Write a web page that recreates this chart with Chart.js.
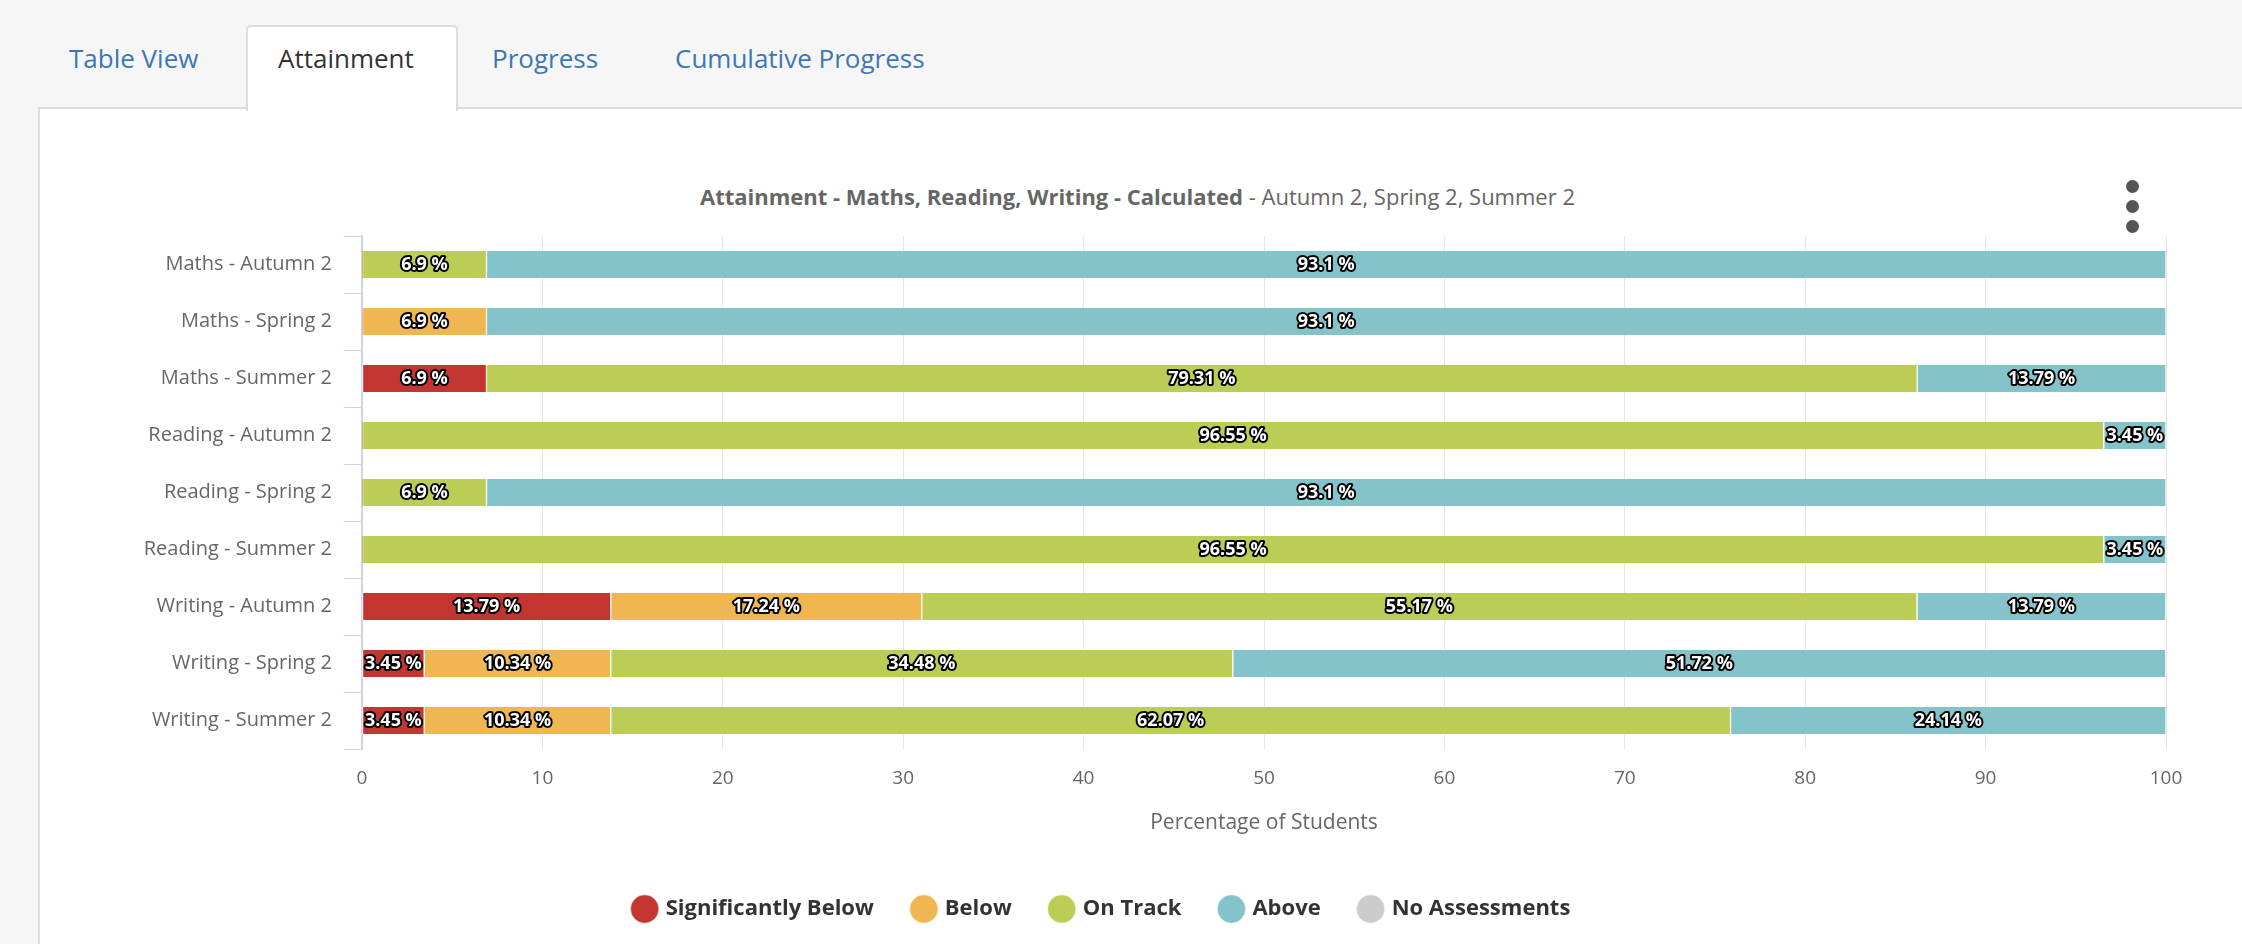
<!DOCTYPE html>
<html><head><meta charset="utf-8">
<script src="https://cdn.jsdelivr.net/npm/chart.js@4"></script>
<style>
  body { margin:0; width:2242px; height:944px; background:#f6f6f6; font-family:"Open Sans",sans-serif; overflow:hidden; position:relative; }
  .tab { position:absolute; top:40px; font-size:26px; color:#3d76b6; }
  .tab.active { color:#333; }
  #tabbox { position:absolute; left:246px; top:25px; width:208px; height:84px; background:#fff; border:2px solid #ddd; border-bottom:none; border-radius:5px 5px 0 0; z-index:2; }
  #panel { position:absolute; left:38px; top:107px; width:2220px; height:860px; background:#fff; border:2px solid #ddd; }
  #title { position:absolute; left:0; width:2275px; top:181px; text-align:center; font-size:22px; color:#666; z-index:3; }
  #dots { position:absolute; left:2126px; top:180px; z-index:3; }
  #dots div { width:13px; height:13px; border-radius:50%; background:#555; margin-bottom:7px; }
  #wrap { position:absolute; left:39px; top:107px; width:2203px; height:837px; z-index:3; }
</style></head>
<body>
<div id="panel"></div>
<div id="tabbox"></div>
<div class="tab" style="left:69px">Table View</div>
<div class="tab active" style="left:278px;z-index:3">Attainment</div>
<div class="tab" style="left:492px">Progress</div>
<div class="tab" style="left:675px">Cumulative Progress</div>
<div id="title"><b>Attainment - Maths, Reading, Writing - Calculated</b> - Autumn 2, Spring 2, Summer 2</div>
<div id="dots"><div></div><div></div><div></div></div>
<div id="wrap"><canvas id="c"></canvas></div>
<script>
const categories = ['Maths - Autumn 2','Maths - Spring 2','Maths - Summer 2','Reading - Autumn 2','Reading - Spring 2','Reading - Summer 2','Writing - Autumn 2','Writing - Spring 2','Writing - Summer 2'];
const sigBelow = [0,0,6.9,0,0,0,13.79,3.45,3.45];
const below = [0,6.9,0,0,0,0,17.24,10.34,10.34];
const onTrack = [6.9,0,79.31,96.55,6.9,96.55,55.17,34.48,62.07];
const above = [93.1,93.1,13.79,3.45,93.1,3.45,13.79,51.72,24.14];
const noAssess = [0,0,0,0,0,0,0,0,0];
const xTicks = [0,10,20,30,40,50,60,70,80,90,100];

const series = [
  ['Significantly Below', sigBelow, '#c23531'],
  ['Below', below, '#f0b650'],
  ['On Track', onTrack, '#bccd55'],
  ['Above', above, '#85c3cb'],
  ['No Assessments', noAssess, '#cccccc'],
];

const labelPlugin = {
  id: 'barLabels',
  afterDatasetsDraw(chart) {
    const ctx = chart.ctx;
    ctx.save();
    ctx.font = 'bold 18px "Open Sans"';
    ctx.textAlign = 'center';
    ctx.textBaseline = 'middle';
    ctx.lineJoin = 'round';
    ctx.lineWidth = 4;
    ctx.strokeStyle = '#000';
    ctx.fillStyle = '#fff';
    chart.data.datasets.forEach((ds, i) => {
      chart.getDatasetMeta(i).data.forEach((bar, j) => {
        const v = ds.data[j];
        if (!v) return;
        const x = (bar.x + bar.base) / 2, t = v + ' %';
        ctx.strokeText(t, x, bar.y);
        ctx.fillText(t, x, bar.y);
      });
    });
    ctx.restore();
  }
};

new Chart(document.getElementById('c'), {
  type: 'bar',
  data: {
    labels: categories,
    datasets: series.map(s => ({
      label: s[0], data: s[1], backgroundColor: s[2],
      borderColor: '#fff', borderWidth: {left:1,right:1}, borderSkipped: false,
      barThickness: 27,
    })),
  },
  options: {
    indexAxis: 'y',
    responsive: true,
    maintainAspectRatio: false,
    animation: false,
    layout: { padding: { top: 129, right: 76, bottom: 14, left: 0 } },
    plugins: {
      tooltip: { enabled: false },
      legend: {
        position: 'bottom',
        labels: { usePointStyle: true, pointStyle: 'circle', boxWidth: 20, boxHeight: 20, padding: 40,
          color: '#333', font: { family: 'Open Sans', size: 22, weight: 'bold' } },
      },
    },
    scales: {
      x: {
        stacked: true, min: 0, max: 100,
        afterBuildTicks: s => { s.ticks = xTicks.map(v => ({ value: v })); },
        afterFit: s => { s.height = 109; },
        grid: { color: '#e6e6e6', drawTicks: false },
        border: { display: false },
        ticks: { color: '#666', padding: 18, font: { family: 'Open Sans', size: 19 } },
        title: { display: true, text: 'Percentage of Students', color: '#666',
          font: { family: 'Open Sans', size: 21 }, padding: { top: 8, bottom: 22 } },
      },
      y: {
        stacked: true,
        afterFit: s => { s.width = 323; },
        grid: { offset: true, drawOnChartArea: false, color: '#ccd6eb', tickLength: 18 },
        border: { color: '#ccd6eb', width: 2 },
        ticks: { color: '#666', padding: 12, font: { family: 'Open Sans', size: 20 } },
      },
    },
  },
  plugins: [labelPlugin],
});
</script>
</body></html>
